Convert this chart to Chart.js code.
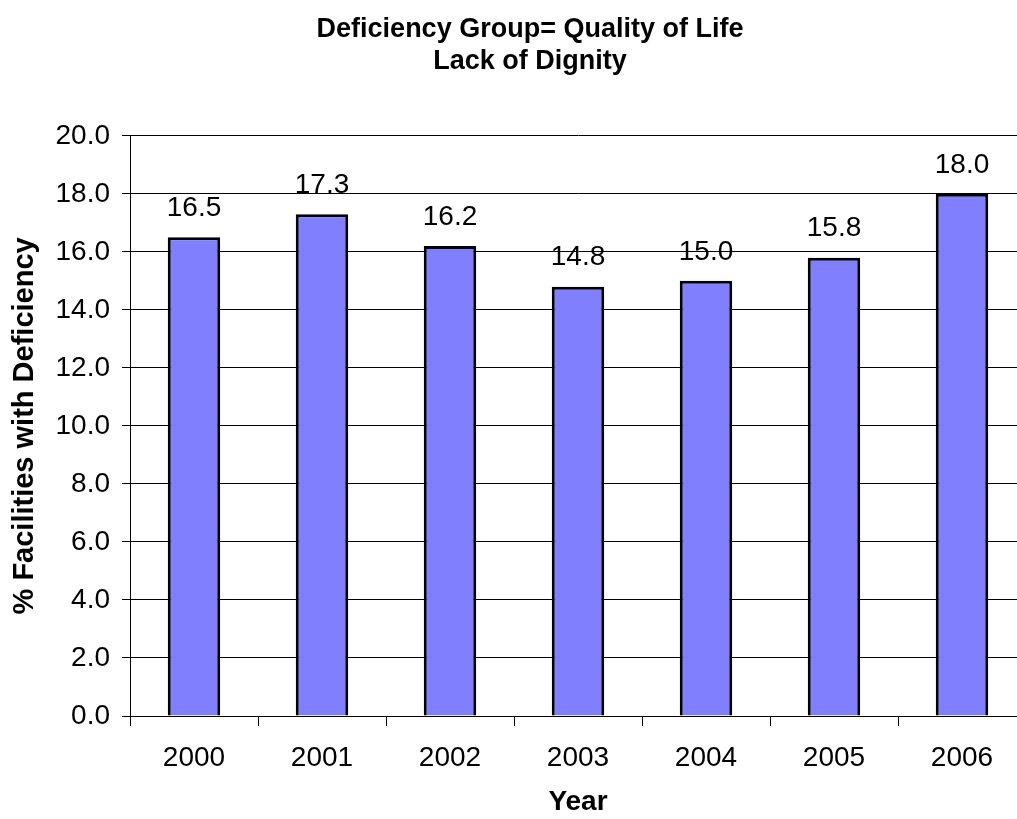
<!DOCTYPE html>
<html>
<head>
<meta charset="utf-8">
<title>Lack of Dignity</title>
<script src="https://cdn.jsdelivr.net/npm/chart.js@4"></script>
<style>
  html, body { margin: 0; padding: 0; background: #fff; overflow: hidden; }
  #wrap { position: relative; width: 1060px; height: 819px; }
</style>
</head>
<body>
<div id="wrap"><canvas id="chart"></canvas></div>
<script>
const years = ['2000', '2001', '2002', '2003', '2004', '2005', '2006'];
const pctWithDeficiency = [16.5, 17.3, 16.2, 14.8, 15.0, 15.8, 18.0];
const titleLines = ['Deficiency Group= Quality of Life', 'Lack of Dignity'];
const yTitle = '% Facilities with Deficiency';
const xTitle = 'Year';

const FONT = "Arial, 'Liberation Sans', sans-serif";

// value labels above each bar
const barLabels = {
    id: 'barLabels',
    afterDatasetsDraw(chart) {
        const ctx = chart.ctx;
        const meta = chart.getDatasetMeta(0);
        ctx.save();
        ctx.font = '28px ' + FONT;
        ctx.fillStyle = '#000';
        ctx.textAlign = 'center';
        ctx.textBaseline = 'middle';
        meta.data.forEach((bar, i) => {
            ctx.fillText(pctWithDeficiency[i].toFixed(1), bar.x, bar.y - 29);
        });
        ctx.restore();
    }
};

new Chart(document.getElementById('chart'), {
    type: 'bar',
    data: {
        labels: years,
        datasets: [{
            data: pctWithDeficiency,
            backgroundColor: '#8080FF',
            borderColor: '#000',
            borderWidth: 3,
            barPercentage: 0.41,
            categoryPercentage: 1.0
        }]
    },
    options: {
        responsive: true,
        maintainAspectRatio: false,
        animation: false,
        layout: { padding: { left: 34, right: 34, top: 0, bottom: 0 } },
        plugins: {
            legend: { display: false },
            tooltip: { enabled: false },
            title: {
                display: true,
                text: titleLines,
                color: '#000',
                font: { family: FONT, size: 27, weight: 'bold', lineHeight: 1.2 },
                padding: { top: 13, bottom: 58 }
            }
        },
        scales: {
            x: {
                grid: { offset: true, drawOnChartArea: false, color: '#000', tickLength: 10 },
                border: { display: true, color: '#000', width: 1 },
                ticks: { color: '#000', font: { family: FONT, size: 28 }, padding: 15, maxRotation: 0 },
                title: {
                    display: true, text: xTitle, color: '#000',
                    font: { family: FONT, size: 28, weight: 'bold', lineHeight: 1.2 },
                    padding: { top: 0, bottom: 0 }
                },
                afterFit(scale) { scale.height = 103; }
            },
            y: {
                min: 0,
                max: 20,
                grid: { color: '#000', tickLength: 8 },
                border: { display: true, color: '#000', width: 1 },
                ticks: {
                    stepSize: 2, color: '#000', padding: 12,
                    font: { family: FONT, size: 28 },
                    callback: v => v.toFixed(1)
                },
                title: {
                    display: true, text: yTitle, color: '#000',
                    font: { family: FONT, size: 29, weight: 'bold', lineHeight: 1.2 },
                    padding: { top: -26, bottom: 0 }
                },
                afterFit(scale) { scale.width = 96; }
            }
        }
    },
    plugins: [barLabels]
});
</script>
</body>
</html>
